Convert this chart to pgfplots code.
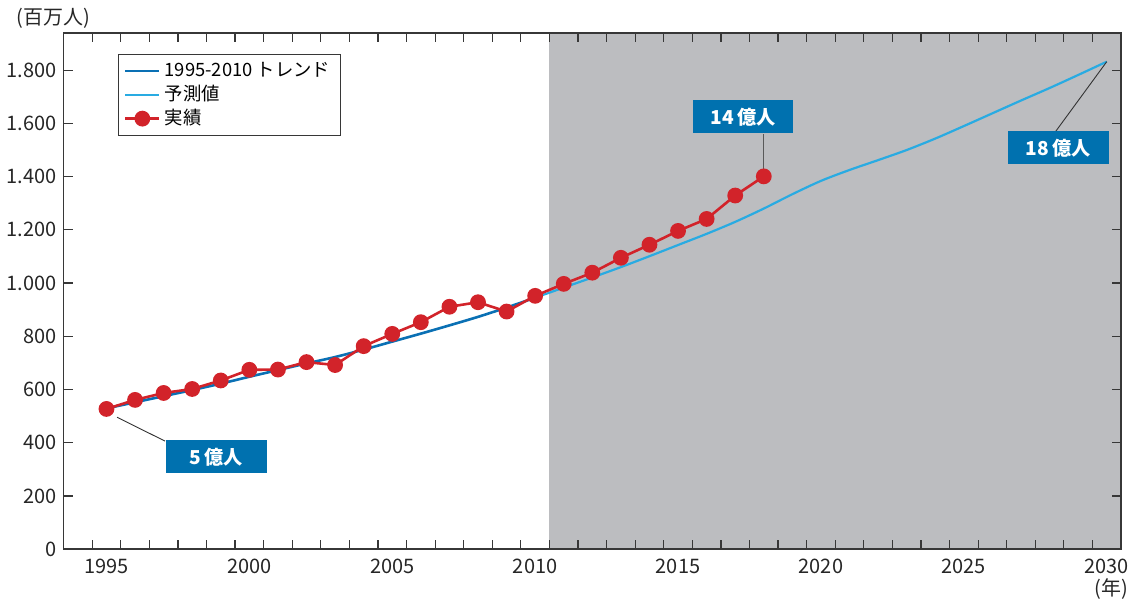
\documentclass[border=0pt]{standalone}
\usepackage{fontspec}
\setmainfont{Noto Sans CJK JP}
\usepackage{pgfplots}
\pgfplotsset{compat=1.18}

\definecolor{projgray}{RGB}{188,189,192}
\definecolor{trendblue}{RGB}{10,112,180}
\definecolor{fcblue}{RGB}{41,171,226}
\definecolor{actred}{RGB}{210,35,42}
\definecolor{boxblue}{RGB}{0,113,175}
\definecolor{axgray}{RGB}{55,55,55}

\begin{document}
\begin{tikzpicture}
\begin{axis}[
  scale only axis, width=529.5pt, height=258.5pt,
  xmin=1993.5, xmax=2030.5, ymin=0, ymax=1940,
  axis on top, clip=false,
  xtick={1994.5,1995.5,...,2029.6}, xticklabels={},
  extra x ticks={1995,2000,2005,2010,2015,2020,2025,2030},
  extra x tick labels={1995,2000,2005,2010,2015,2020,2025,2030},
  extra x tick style={major tick length=0pt,
    tick label style={yshift=-1.2pt}},
  ytick={0,200,...,1800},
  /pgf/number format/1000 sep={.},
  /pgf/number format/assume math mode=true,
  tick align=inside, major tick length=4.5pt,
  tick style={axgray, line width=0.6pt},
  axis line style={axgray, line width=0.7pt},
  tick label style={font=\fontsize{10}{12}\selectfont, text=black!85},
  legend style={at={(0.051,0.959)}, anchor=north west, draw=axgray,
    line width=0.5pt, font=\fontsize{9.2}{10}\selectfont,
    inner xsep=3pt, inner ysep=2pt, row sep=-1.2pt},
  legend cell align=left,
]
% projection period
\fill[projgray] (axis cs:2010.5,0) rectangle (axis cs:2030.5,1940);

% trend 1995-2010
\addplot[trendblue, line width=1.3pt, smooth] coordinates {
(1995,529) (1996,552) (1997,575) (1998,598) (1999,622) (2000,648)
(2001,673) (2002,698) (2003,722) (2004,750) (2005,780) (2006,810)
(2007,841) (2008,873) (2009,908) (2010,945)};
\addlegendentry{1995-2010 トレンド}

% forecast 2010-2030
\addplot[fcblue, line width=1.1pt, smooth] coordinates {
(2010,945) (2011,983) (2012,1021) (2013,1060) (2014,1101) (2015,1143)
(2016,1185) (2017,1230) (2018,1280) (2019,1334) (2020,1384) (2021,1425)
(2022,1462) (2023,1500) (2024,1543) (2025,1590) (2026,1638) (2027,1686)
(2028,1733) (2029,1782) (2030,1832)};
\addlegendentry{予測値}

% callout leaders
\draw[black!80, line width=0.45pt] (axis cs:1995.37,496) -- (axis cs:1997.05,406);
\draw[black!65, line width=0.7pt] (axis cs:2018,1401) -- (axis cs:2018,1562);
\draw[black!80, line width=0.45pt] (axis cs:2030,1832) -- (axis cs:2028.2,1568);

% actual arrivals
\addplot[actred, line width=1.3pt, mark=*, mark size=3.3pt,
  mark options={fill=actred, draw=actred}] coordinates {
(1995,527) (1996,561) (1997,587) (1998,602) (1999,634) (2000,674)
(2001,675) (2002,703) (2003,692) (2004,763) (2005,809) (2006,853)
(2007,911) (2008,928) (2009,893) (2010,952) (2011,997) (2012,1039)
(2013,1095) (2014,1144) (2015,1196) (2016,1241) (2017,1329) (2018,1401)};
\addlegendentry{実績}

% value boxes
\tikzset{callout/.style={fill=boxblue, text=white, inner sep=0pt,
  minimum width=50.5pt, minimum height=16.5pt,
  font=\fontsize{9.6}{11}\selectfont\bfseries}}
\node[callout] at (axis cs:1998.85,347) {5\,億人};
\node[callout] at (axis cs:2017.27,1625) {14\,億人};
\node[callout] at (axis cs:2028.3,1508) {18\,億人};

% unit labels
\node[anchor=west, font=\fontsize{10}{12}\selectfont, text=black!85]
  at (axis description cs:-0.051,1.0284) {(百万人)};
\node[font=\fontsize{10}{12}\selectfont, text=black!85]
  at (axis description cs:0.9906,-0.0774) {(年)};
\end{axis}
\path (-31pt,-26.5pt) rectangle (537pt,275pt);
\end{tikzpicture}
\end{document}
